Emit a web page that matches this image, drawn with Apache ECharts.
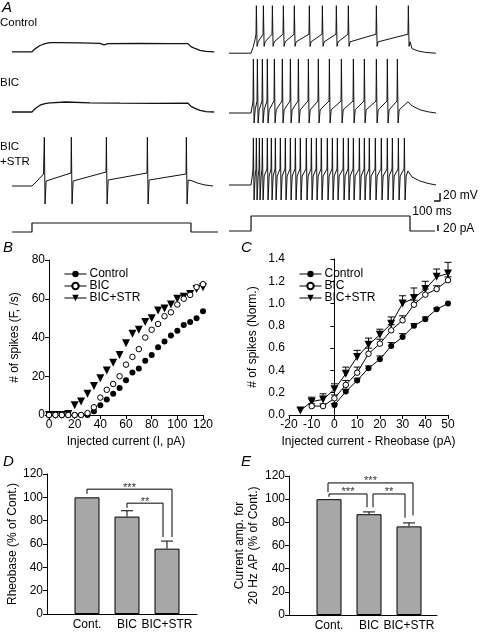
<!DOCTYPE html>
<html><head><meta charset="utf-8">
<script src="https://cdn.jsdelivr.net/npm/echarts/dist/echarts.min.js"></script>
<style>html,body{margin:0;padding:0;background:#fff}#c{width:480px;height:632px}</style>
</head><body><div id="c"></div>
<script>
const FONT = '"Liberation Sans", Arial, sans-serif';

// ---------- Panel A : recordings (time in ms, potential in mV, current in pA) ----------
const ctrlLeft = [[0,-70],[333,-70],[383,-62],[467,-53],[550,-48],[633,-45],[800,-45],[1133,-46],[1467,-47.5],[1533,-51],[1600,-48],[2133,-47.5],[2633,-48],[2933,-48],[2983,-56],[3050,-61],[3133,-66],[3233,-69],[3370,-70]];
const bicLeft = [[0,-70],[333,-70],[383,-62],[467,-53],[550,-49],[633,-47],[900,-45],[1300,-47],[1800,-48],[2400,-48.5],[2933,-48],[2983,-56],[3050,-61],[3133,-66],[3233,-69],[3370,-70]];

const strLeftOnset = [[0,-70],[333,-70],[433,-55],[525,-40]];
const strLeftSpikes = [533, 983, 1567, 2250, 2900];
const strLeftPre = [-40, -37.5, -35, -37.5, -40];
const strLeftPost = [-57.5, -57.5, -55, -55, -55];
const strLeftTail = [[3000,-57],[3100,-63],[3200,-67],[3350,-70]];
const strLeftPeak = 52, strLeftTrough = -115;

const ctrlRightOnset = [[0,-70],[367,-70],[400,-55],[433,-35]];
const ctrlRightSpikes = [450, 567, 717, 900, 1083, 1333, 1550, 1783, 1983, 2450, 2983];
const ctrlRightTail = [[3050,-58],[3150,-64],[3280,-68],[3450,-70]];
const ctrlRightLevels = {pre: -20, post: -40, peak: 55, trough: -52};

const bicRightOnset = [[0,-70],[367,-70],[390,-50]];
const bicRightSpikes = [400, 467, 550, 633, 750, 883, 1017, 1150, 1317, 1483, 1667, 1867, 2067, 2250, 2450, 2633, 2800];
const bicRightTail = [[2983,-42],[3050,-52],[3183,-62],[3317,-67],[3450,-70]];
const bicRightLevels = {pre: -40, post: -62, peak: 65, trough: -95};

const strRightOnset = [[0,-70],[367,-70],[390,-45]];
const strRightSpikes = [400, 450, 500, 550, 633, 700, 767, 850, 933, 1017, 1100, 1183, 1283, 1367, 1450, 1533, 1633, 1717, 1800, 1900, 1983, 2067, 2167, 2250, 2333, 2433, 2533, 2633, 2717, 2817, 2917];
const strRightTail = [[2983,-35],[3050,-50],[3183,-60],[3317,-66],[3450,-70]];
const strRightLevels = {pre: -30, post: -47.5, peak: 47.5, trough: -107.5};

const stepLeft = [[0,0],[333,0],[333,30],[2983,30],[2983,0],[3433,0]];
const stepRight = [[0,0],[367,0],[367,50],[3017,50],[3017,0],[3433,0]];
const barMV = [[3417,-110],[3517,-110],[3517,-90]]; // 100 ms, 20 mV
const barPA = [[3483,0],[3483,20]];                 // 20 pA

function buildTrace(onset, spikes, pre, post, peak, trough, tail) {
  const pts = onset.map(p => p.slice());
  spikes.forEach((t, i) => {
    const a = Array.isArray(pre) ? pre[i] : pre;
    const b = Array.isArray(post) ? post[i] : post;
    pts.push([t, a]);
    pts.push([t + 6, peak]);
    pts.push([t + 18, trough]);
    pts.push([t + 36, b]);
  });
  return pts.concat(tail);
}
const strLeft = buildTrace(strLeftOnset, strLeftSpikes, strLeftPre, strLeftPost, strLeftPeak, strLeftTrough, strLeftTail);
const ctrlRight = buildTrace(ctrlRightOnset, ctrlRightSpikes, ctrlRightLevels.pre, ctrlRightLevels.post, ctrlRightLevels.peak, ctrlRightLevels.trough, ctrlRightTail);
const bicRight = buildTrace(bicRightOnset, bicRightSpikes, bicRightLevels.pre, bicRightLevels.post, bicRightLevels.peak, bicRightLevels.trough, bicRightTail);
const strRight = buildTrace(strRightOnset, strRightSpikes, strRightLevels.pre, strRightLevels.post, strRightLevels.peak, strRightLevels.trough, strRightTail);

// ---------- Panel B ----------
const currentB = [0,5,10,15,20,25,30,35,40,45,50,55,60,65,70,75,80,85,90,95,100,105,110,115,120];
const ctrlB = [0,0,0,0,0,0,0,2,5,8,11,14,18,22,24,28,31,35,38,41,43.5,46.5,48,50,53.5];
const bicB  = [0,0,0,0,0,0,1,4,9,13,16,20,26,30,34,40,44,47,51,53,57,60,62,66,67.5];
const strB  = [0,0,0,0.5,5,7,11,15,19,23,27,31,37,42,44,48,50,54,55,57,60,61,62.5,65,66];

// ---------- Panel C ----------
const currentC = [-15,-10,-5,0,5,10,15,20,25,30,35,40,45,50];
const ctrlC   = [null,null,null,0.09,0.21,0.31,0.42,0.50,0.62,0.70,0.80,0.86,0.95,1.00];
const ctrlErr = [0,0,0,0.01,0.02,0.02,0.02,0.03,0.03,0.03,0.02,0.02,0.01,0];
const bicC    = [null,0.08,0.08,0.15,0.27,0.38,0.55,0.64,0.76,0.85,0.99,1.08,1.13,1.21];
const bicErr  = [0,0.02,0.02,0.03,0.04,0.05,0.05,0.04,0.05,0.04,0.04,0.05,0.03,0.03];
const strC    = [0.04,0.12,0.14,0.23,0.37,0.52,0.63,0.72,0.82,1.00,1.05,1.13,1.24,1.27];
const strErr  = [0,0.04,0.05,0.05,0.06,0.06,0.06,0.05,0.06,0.07,0.09,0.07,0.07,0.10];

// ---------- Panels D, E ----------
const groups = ['Cont.', 'BIC', 'BIC+STR'];
const rheoD = [100, 83.5, 56];
const rheoErr = [0, 5, 6.5];
const ampE = [100, 87, 76.5];
const ampErr = [0, 2, 3];
// significance brackets: [from group, to group, bracket height, left leg end, right leg end]
const sigD = [[0,2,107,103,66],[1,2,95,91,66]];
const sigDText = ['***','**'];
const sigDShift = [[0,5],[0,-4]];
const sigE = [[0,2,114,106,86],[0,1,104.5,102,93],[1,2,104.5,93,84]];
const sigEText = ['***','***','**'];
const sigEShift = [[-1,4],[0,-2],[4,-4]];

// ---------- layout ----------
const grids = [], xAxes = [], yAxes = [], series = [];
function addTraceGrid(left, top, height, ymin, ymax) {
  grids.push({left: left, top: top, width: 216, height: height});
  const i = grids.length - 1;
  xAxes.push({gridIndex: i, type: 'value', min: 0, max: 3600, show: false});
  yAxes.push({gridIndex: i, type: 'value', min: ymin, max: ymax, show: false});
  return i;
}
function traceSeries(idx, data, w) {
  series.push({type: 'line', xAxisIndex: idx, yAxisIndex: idx, data: data, symbol: 'none', clip: false,
    lineStyle: {color: '#111', width: w || 1}, silent: true, animation: false});
}
const gL = [addTraceGrid(12, -6, 80, -130, 70), addTraceGrid(12, 56, 80, -130, 70), addTraceGrid(12, 130, 80, -130, 70), addTraceGrid(12, 211, 24, -10, 70)];
const gR = [addTraceGrid(229, -4, 80, -130, 70), addTraceGrid(229, 57, 80, -130, 70), addTraceGrid(229, 129, 80, -130, 70), addTraceGrid(229, 210, 24, -10, 70)];
traceSeries(gL[0], ctrlLeft, 1.3);
traceSeries(gL[1], bicLeft, 1.3);
traceSeries(gL[2], strLeft, 1);
traceSeries(gL[3], stepLeft, 1.2);
traceSeries(gR[0], ctrlRight, 1);
traceSeries(gR[1], bicRight, 1);
traceSeries(gR[2], strRight, 1);
traceSeries(gR[3], stepRight, 1.2);
traceSeries(gR[2], barMV, 1.5);
traceSeries(gR[3], barPA, 1.5);

const axisCommon = {
  axisLine: {show: true, lineStyle: {color: '#000', width: 1}},
  axisTick: {show: true, length: 4, lineStyle: {color: '#000'}},
  axisLabel: {color: '#000', fontSize: 12, fontFamily: FONT, margin: 4},
  splitLine: {show: false},
  nameLocation: 'middle',
  nameTextStyle: {color: '#000', fontSize: 12, fontFamily: FONT}
};
function addPlotGrid(g, x, y) {
  grids.push(g);
  const i = grids.length - 1;
  xAxes.push(Object.assign({gridIndex: i, type: 'value'}, JSON.parse(JSON.stringify(axisCommon)), x));
  yAxes.push(Object.assign({gridIndex: i, type: 'value'}, JSON.parse(JSON.stringify(axisCommon)), y));
  return i;
}
// B
const gB = addPlotGrid({left: 49, top: 260, width: 154, height: 155},
  {min: 0, max: 120, interval: 20, name: 'Injected current (I, pA)', nameGap: 21},
  {min: 0, max: 80, interval: 20, name: '# of spikes (F, /s)', nameGap: 28});
// C
const gC = addPlotGrid({left: 289, top: 259, width: 159, height: 156},
  {min: -20, max: 50, interval: 10, name: 'Injected current - Rheobase (pA)', nameGap: 21},
  {min: 0, max: 1.4, interval: 0.2, name: '# of spikes (Norm.)', nameGap: 30});
yAxes[gC].axisLabel.formatter = v => v.toFixed(1);
// D
const catFmt = v => groups[v - 1] || '';
const gD = addPlotGrid({left: 47, top: 474, width: 150, height: 140},
  {min: 0, max: 3.75, interval: 1, axisTick: {show: false}},
  {min: 0, max: 120, interval: 20, name: 'Rheobase (% of Cont.)', nameGap: 27});
xAxes[gD].axisLabel.formatter = catFmt; xAxes[gD].axisLabel.margin = 5;
// E
const gE = addPlotGrid({left: 289, top: 476, width: 148, height: 141},
  {min: 0, max: 3.7, interval: 1, axisTick: {show: false}},
  {min: 0, max: 120, interval: 20, name: 'Current amp. for\n20 Hz AP (% of Cont.)', nameGap: 22});
xAxes[gE].axisLabel.formatter = catFmt; xAxes[gE].axisLabel.margin = 5;
yAxes[gE].nameTextStyle.lineHeight = 14;

const markers = {
  'Control': {symbol: 'circle', symbolSize: 6, itemStyle: {color: '#000', borderColor: '#000', borderWidth: 0}},
  'BIC': {symbol: 'circle', symbolSize: 5.5, itemStyle: {color: '#fff', borderColor: '#000', borderWidth: 1}},
  'BIC+STR': {symbol: 'triangle', symbolSize: 8, symbolRotate: 180, itemStyle: {color: '#000', borderColor: '#000', borderWidth: 0}}
};
function zip(xs, ys) { return xs.map((x, i) => [x, ys[i]]); }
// B series (markers only)
[['Control', ctrlB], ['BIC', bicB], ['BIC+STR', strB]].forEach(([n, ys]) => {
  series.push(Object.assign({type: 'line', name: n, xAxisIndex: gB, yAxisIndex: gB, data: zip(currentB, ys),
    showSymbol: true, lineStyle: {color: '#000', width: 1, opacity: 0}, animation: false, z: n === 'BIC' ? 4 : 3}, JSON.parse(JSON.stringify(markers[n]))));
});
// C error bars
function errRender(capHalf) {
  return function (params, api) {
    const x = api.value(0), y = api.value(1), e = api.value(2);
    if (!(e > 0)) return null;
    const p0 = api.coord([x, y]), p1 = api.coord([x, y + e]);
    return {type: 'group', children: [
      {type: 'line', shape: {x1: p0[0], y1: p0[1], x2: p1[0], y2: p1[1]}, style: {stroke: '#000', lineWidth: 1}},
      {type: 'line', shape: {x1: p1[0] - capHalf, y1: p1[1], x2: p1[0] + capHalf, y2: p1[1]}, style: {stroke: '#000', lineWidth: 1}}
    ]};
  };
}
[['Control', ctrlC, ctrlErr], ['BIC', bicC, bicErr], ['BIC+STR', strC, strErr]].forEach(([n, ys, es]) => {
  const pts = currentC.map((x, i) => [x, ys[i], es[i]]).filter(p => p[1] !== null);
  series.push({type: 'custom', name: n + ' err', xAxisIndex: gC, yAxisIndex: gC, data: pts, renderItem: errRender(3.5), z: 1, animation: false, silent: true});
  series.push(Object.assign({type: 'line', name: n, xAxisIndex: gC, yAxisIndex: gC, data: pts.map(p => [p[0], p[1]]),
    showSymbol: true, lineStyle: {color: '#000', width: 1}, animation: false, z: n === 'BIC' ? 4 : 3}, JSON.parse(JSON.stringify(markers[n]))));
});
// D, E bars
function barSeries(idx, vals, errs, sig, sigText, sigShift) {
  series.push({type: 'bar', xAxisIndex: idx, yAxisIndex: idx, data: vals.map((v, i) => [i + 1, v]), barWidth: 25,
    itemStyle: {color: '#a7a7a7', borderColor: '#000', borderWidth: 1}, animation: false, silent: true});
  series.push({type: 'custom', xAxisIndex: idx, yAxisIndex: idx, data: vals.map((v, i) => [i + 1, v, errs[i]]),
    renderItem: errRender(6), z: 3, animation: false, silent: true});
  series.push({type: 'custom', xAxisIndex: idx, yAxisIndex: idx, clip: false,
    data: sig.map((s, i) => [s[0] + 1, s[1] + 1, s[2], s[3], s[4], sigShift[i][0], sigShift[i][1]]),
    renderItem: function (params, api) {
      const pa = api.coord([api.value(0), api.value(2)]), pb = api.coord([api.value(1), api.value(2)]);
      const ya = api.coord([api.value(0), api.value(3)])[1], yb = api.coord([api.value(1), api.value(4)])[1];
      const xa = pa[0] + api.value(5), xb = pb[0] + api.value(6);
      return {type: 'group', children: [
        {type: 'polyline', shape: {points: [[xa, ya], [xa, pa[1]], [xb, pa[1]], [xb, yb]]}, style: {stroke: '#000', lineWidth: 1, fill: 'none'}},
        {type: 'text', x: (xa + xb) / 2, y: pa[1] + 4, style: {text: sigText[params.dataIndex], font: '11px ' + FONT, fill: '#333', align: 'center', verticalAlign: 'bottom'}}
      ]};
    }, z: 4, animation: false, silent: true});
}
barSeries(gD, rheoD, rheoErr, sigD, sigDText, sigDShift);
barSeries(gE, ampE, ampErr, sigE, sigEText, sigEShift);

const legendBase = {orient: 'vertical', itemWidth: 22, itemHeight: 8, itemGap: 0, padding: 0, selectedMode: false,
  data: ['Control', 'BIC', 'BIC+STR'],
  textStyle: {color: '#000', fontSize: 12, fontFamily: FONT, lineHeight: 12, padding: [0, 0, 0, -2]},
  lineStyle: {color: '#000', width: 1, opacity: 1}};
const legends = [Object.assign({left: 64, top: 268}, legendBase), Object.assign({left: 299, top: 268}, legendBase)];

function txt(text, x, y, size, opts) {
  return Object.assign({type: 'text', x: x, y: y, silent: true,
    style: Object.assign({text: text, font: size + 'px ' + FONT, fill: '#000', align: 'left', verticalAlign: 'middle'}, opts || {})});
}
const graphics = [
  txt('A', 2, 8, 15, {font: 'italic 15px ' + FONT}),
  txt('Control', 0, 23, 11.5), txt('BIC', 0, 83, 11.5), txt('BIC', 0, 147, 11.5), txt('+STR', 0, 162, 11.5),
  txt('20 mV', 443, 196, 12), txt('100 ms', 432, 212, 12, {align: 'center'}), txt('20 pA', 443, 229, 12),
  txt('B', 3, 248, 15, {font: 'italic 15px ' + FONT}),
  txt('C', 241, 248, 15, {font: 'italic 15px ' + FONT}),
  txt('D', 3, 462, 15, {font: 'italic 15px ' + FONT}),
  txt('E', 241, 462, 15, {font: 'italic 15px ' + FONT})
];

const chart = echarts.init(document.getElementById('c'), null, {renderer: 'canvas', width: 480, height: 632});
chart.setOption({
  animation: false,
  backgroundColor: '#fff',
  textStyle: {fontFamily: FONT},
  grid: grids, xAxis: xAxes, yAxis: yAxes, series: series, legend: legends, graphic: graphics
});
</script></body></html>
